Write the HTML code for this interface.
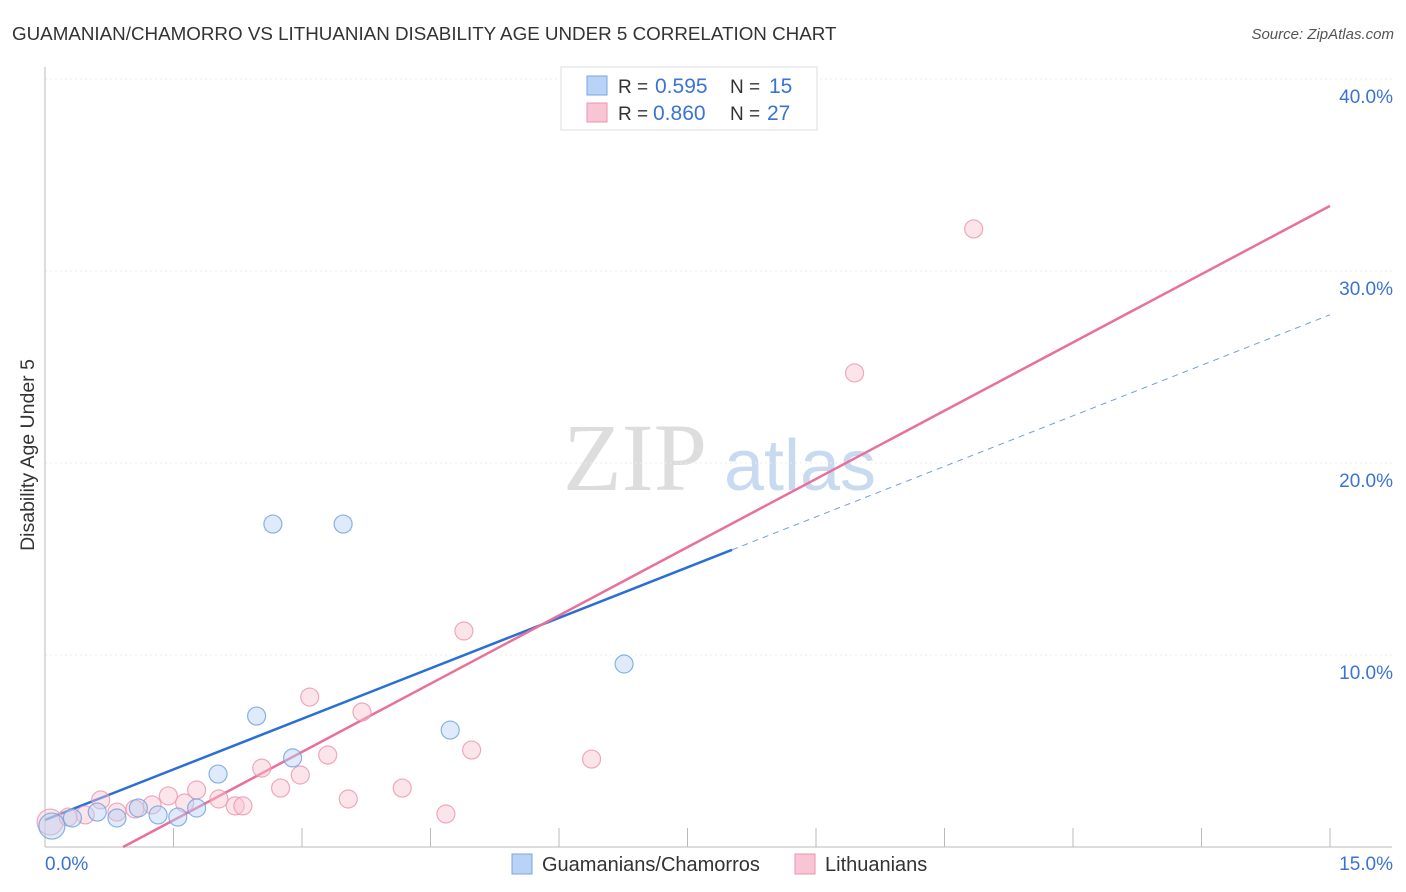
<!DOCTYPE html>
<html><head><meta charset="utf-8"><style>
body{margin:0;background:#fff;font-family:"Liberation Sans",sans-serif}
svg{display:block}
</style></head><body>
<svg width="1406" height="892" id="chart">
<text x="12" y="40" font-size="18.8" fill="#333">GUAMANIAN/CHAMORRO VS LITHUANIAN DISABILITY AGE UNDER 5 CORRELATION CHART</text>
<text x="1394" y="39" font-size="15" fill="#555" font-style="italic" text-anchor="end">Source: ZipAtlas.com</text>
<text x="635" y="490" font-size="96" fill="#ddd" font-family="Liberation Serif,serif" text-anchor="middle">ZIP</text>
<text x="800" y="490" font-size="72" fill="#c8daf0" text-anchor="middle">atlas</text>
<text transform="translate(34,455) rotate(-90)" font-size="19.5" fill="#333" text-anchor="middle">Disability Age Under 5</text>
<g id="grid"></g><g id="axes"></g><g id="lines"></g><g id="pts"></g>
<g>
<rect x="561" y="67" width="256" height="63" fill="#fff" stroke="#ddd"/>
<rect x="587" y="76" width="20" height="19" fill="#b8d3f5" stroke="#7aa7e0"/>
<rect x="587" y="103" width="20" height="19" fill="#f9c4d3" stroke="#eb95ad"/>
<text x="618" y="93" font-size="19" fill="#333">R = <tspan x="655" fill="#3b73d4" font-size="21">0.595</tspan><tspan x="730">N = </tspan><tspan x="769" fill="#3b73d4" font-size="21">15</tspan></text>
<text x="618" y="120" font-size="19" fill="#333">R = <tspan x="653" fill="#3b73d4" font-size="21">0.860</tspan><tspan x="730">N = </tspan><tspan x="767" fill="#3b73d4" font-size="21">27</tspan></text>
</g>
<g>
<rect x="512" y="854" width="20" height="20" fill="#b8d3f5" stroke="#7aa7e0"/>
<text x="542" y="871" font-size="20" fill="#333">Guamanians/Chamorros</text>
<rect x="795" y="854" width="20" height="20" fill="#f9c4d3" stroke="#eb95ad"/>
<text x="825" y="871" font-size="20" fill="#333">Lithuanians</text>
</g>
</svg>
<script>
const blueX=[0.08,0.32,0.61,0.84,1.09,1.32,1.55,1.77,2.02,2.47,2.66,2.89,3.48,4.73,6.76];
const blueY=[1.09,1.51,1.82,1.51,2.03,1.67,1.56,2.03,3.80,6.82,16.82,4.64,16.82,6.09,9.53];
const pinkX=[0.06,0.27,0.47,0.65,0.84,1.05,1.25,1.44,1.63,1.77,2.03,2.22,2.31,2.53,2.75,2.98,3.09,3.30,3.54,3.70,4.17,4.68,4.89,4.98,6.38,9.45,10.84];
const pinkY=[1.30,1.56,1.67,2.45,1.82,1.98,2.19,2.66,2.29,2.97,2.50,2.14,2.14,4.11,3.07,3.75,7.81,4.79,2.50,7.03,3.07,1.72,11.25,5.05,4.58,24.69,32.19];
const yTicks=[10,20,30,40];
const yTickLabels=["10.0%","20.0%","30.0%","40.0%"];
const blueTrend=[1.41,1.754];
const pinkTrend=[-2.16,2.37];
const NS='http://www.w3.org/2000/svg';
const X=v=>45+v*85.667, Y=v=>847-v*19.2;
function mk(t,a,p){const e=document.createElementNS(NS,t);for(const k in a)e.setAttribute(k,a[k]);document.getElementById(p).appendChild(e);return e;}
yTicks.forEach((t,i)=>{
 const g=mk('line',{x1:45,x2:1392,y1:Y(t),y2:Y(t),stroke:'#ececec','stroke-dasharray':'2,3'},'grid');
 
 
 const l=mk('text',{x:1393,y:Y(t)+24,'font-size':19,fill:'#3b73d4','text-anchor':'end'},'axes');
 l.textContent=yTickLabels[i];
 
 
});
mk('line',{x1:45,x2:45,y1:67,y2:847,stroke:'#bbb'},'axes');
mk('line',{x1:45,x2:1392,y1:847,y2:847,stroke:'#bbb'},'axes');
for(let i=1;i<=10;i++){const t=mk('line',{x1:X(i*1.5),x2:X(i*1.5),y1:828,y2:847,stroke:'#bbb'},'axes');
 
 }
const x0=mk('text',{x:45,y:870,'font-size':19,fill:'#3b73d4'},'axes');x0.textContent='0.0%';


const x1=mk('text',{x:1393,y:870,'font-size':19,fill:'#3b73d4','text-anchor':'end'},'axes');x1.textContent='15.0%';


function pts(xs,ys,f,s,n){xs.forEach((x,i)=>{const c=mk('circle',{cx:X(x),cy:Y(ys[i]),r:i==0?13:9,fill:f,'fill-opacity':0.45,stroke:s,'stroke-width':1.2,'stroke-opacity':0.8},'pts');
 
 });}
pts(pinkX,pinkY,'#f9c4d3','#eb95ad','lithuanian-point');
pts(blueX,blueY,'#b8d3f5','#6f9fe0','guamanian-point');
const bf=v=>blueTrend[0]+blueTrend[1]*v, pf=v=>pinkTrend[0]+pinkTrend[1]*v;
const b1=mk('line',{x1:X(0),y1:Y(bf(0)),x2:X(8.02),y2:Y(bf(8.02)),stroke:'#2a6fd6','stroke-width':2.5},'lines');


const b2=mk('line',{x1:X(8.02),y1:Y(bf(8.02)),x2:X(15),y2:Y(bf(15)),stroke:'#6f9fe0','stroke-width':1,'stroke-dasharray':'6,5'},'lines');


const x0p=-pinkTrend[0]/pinkTrend[1];
const p1=mk('line',{x1:X(x0p),y1:Y(0),x2:X(15),y2:Y(pf(15)),stroke:'#e8709a','stroke-width':2.5},'lines');


</script>
</body></html>
